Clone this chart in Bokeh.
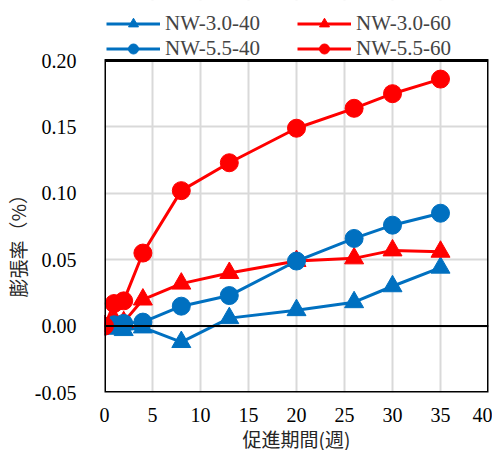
from bokeh.plotting import figure
from bokeh.models import (Legend, LegendItem, Span, FixedTicker, NumeralTickFormatter,
                          Range1d, BoxAnnotation, Title)
from bokeh.embed import file_html
from bokeh.resources import INLINE

weeks = [0, 1, 2, 4, 8, 13, 20, 26, 30, 35]
nw30_40 = [0.000, -0.002, -0.003, -0.001, -0.012, 0.006, 0.012, 0.018, 0.030, 0.044]
nw30_60 = [0.000, 0.005, 0.003, 0.020, 0.032, 0.040, 0.049, 0.051, 0.057, 0.056]
nw55_40 = [0.000, 0.001, 0.002, 0.003, 0.015, 0.023, 0.049, 0.066, 0.076, 0.085]
nw55_60 = [0.000, 0.017, 0.019, 0.055, 0.102, 0.123, 0.149, 0.164, 0.175, 0.186]
x_ticks = [0, 5, 10, 15, 20, 25, 30, 35, 40]
y_ticks = [-0.05, 0.00, 0.05, 0.10, 0.15, 0.20]
X_MIN, X_MAX = 0, 40
Y_MIN, Y_MAX = -0.05, 0.20

BLUE = "#0070C0"
RED = "#FF0000"
SERIF = "Liberation Serif"
CJK = "Noto Sans CJK JP"

# the frame extends above the plotting box so the legend (drawn inside the frame) stays visible
PX_PER_UNIT = 332 / (Y_MAX - Y_MIN)
p = figure(frame_width=384, frame_height=392, output_backend="svg", toolbar_location=None,
           x_range=Range1d(X_MIN, X_MAX), y_range=Range1d(Y_MIN, Y_MAX + 60 / PX_PER_UNIT),
           min_border_left=102, min_border_right=4, min_border_top=0, min_border_bottom=50)
p.outline_line_color = None
p.background_fill_color = "white"

for ax in (p.xaxis[0], p.yaxis[0]):
    ax.axis_line_color = None
    ax.major_tick_line_color = None
    ax.minor_tick_line_color = None
    ax.major_label_text_font = SERIF
    ax.major_label_text_font_size = "20px"
    ax.major_label_text_color = "black"
    ax.axis_label_text_font = CJK
    ax.axis_label_text_font_size = "19px"
    ax.axis_label_text_font_style = "normal"
    ax.axis_label_text_color = "#262626"

p.xaxis.ticker = FixedTicker(ticks=x_ticks)
p.yaxis.ticker = FixedTicker(ticks=y_ticks)
p.yaxis.formatter = NumeralTickFormatter(format="0.00")
p.xaxis.major_label_standoff = 9
p.yaxis.major_label_standoff = 22
p.xaxis.axis_label = "促進期間(週)"
p.xaxis.axis_label_standoff = 0

ytitle = Title(text="膨張率（%）", align="left", offset=95, standoff=2,
               text_font=CJK, text_font_size="19px", text_font_style="normal",
               text_color="#262626")
p.add_layout(ytitle, "left")

p.xgrid.ticker = FixedTicker(ticks=x_ticks)
p.ygrid.ticker = FixedTicker(ticks=y_ticks)
p.xgrid.grid_line_color = "#d9d9d9"
p.ygrid.grid_line_color = "#d9d9d9"
p.xgrid.grid_line_width = 2
p.ygrid.grid_line_width = 2

# white cover over the legend strip, drawn above the grid
p.add_layout(BoxAnnotation(bottom=Y_MAX + 0.0008, fill_color="white", fill_alpha=1,
                           line_color=None, level="glyph"))
p.add_layout(Span(location=0, dimension="width", line_color="black", line_width=2))

items = []
series = [
    ("NW-3.0-40", nw30_40, BLUE, "triangle"),
    ("NW-3.0-60", nw30_60, RED, "triangle"),
    ("NW-5.5-40", nw55_40, BLUE, "circle"),
    ("NW-5.5-60", nw55_60, RED, "circle"),
]
for name, ys, col, mk in series:
    l = p.line(weeks, ys, line_color=col, line_width=3)
    s = p.scatter(weeks, ys, marker=mk, size=19 if mk == "triangle" else 18,
                  fill_color=col, line_color=col)
    items.append(LegendItem(label=name, renderers=[l, s]))

# plot box outline
p.add_layout(BoxAnnotation(left=X_MIN, right=X_MAX, bottom=Y_MIN, top=Y_MAX,
                           fill_alpha=0, line_color="black", line_width=3, line_alpha=1))

def make_legend(its, x):
    return Legend(items=its, location=(x, 331),
                  label_text_font=SERIF, label_text_font_size="21px",
                  glyph_width=54, glyph_height=25, label_standoff=5,
                  spacing=0, padding=0, margin=0, background_fill_alpha=0,
                  border_line_color=None, label_height=25)

p.add_layout(make_legend([items[0], items[2]], 2), "center")
p.add_layout(make_legend([items[1], items[3]], 193), "center")

open("out.html", "w").write(file_html(p, INLINE))
